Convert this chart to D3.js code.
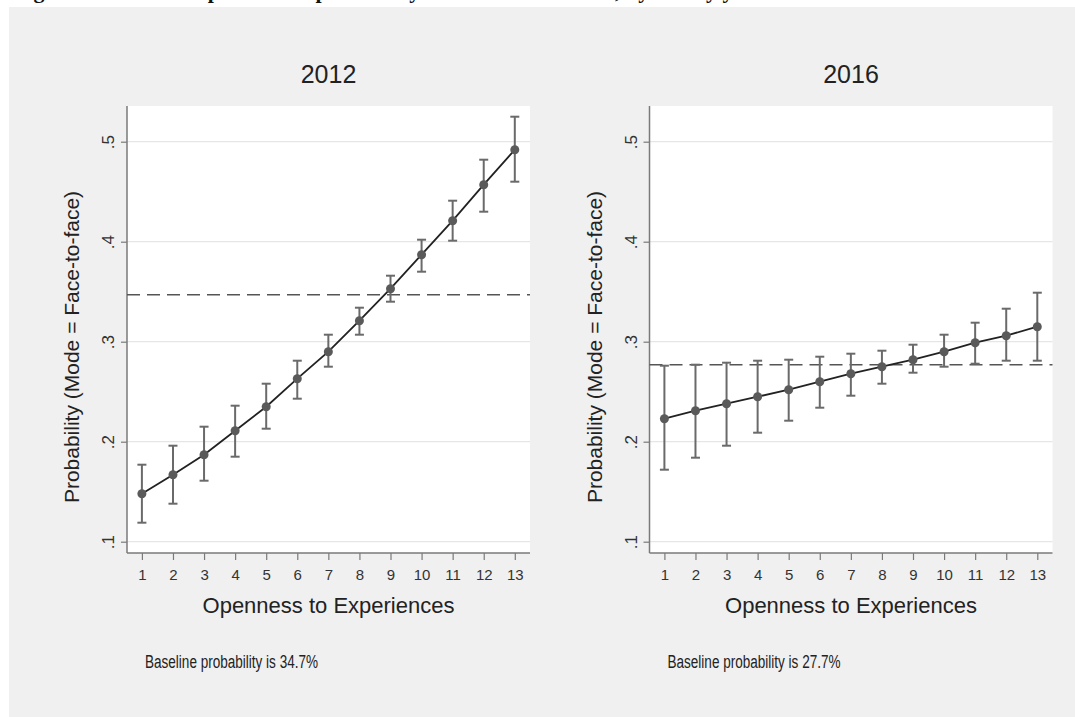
<!DOCTYPE html>
<html>
<head>
<meta charset="utf-8">
<script src="https://cdn.jsdelivr.net/npm/d3@7"></script>
<style>
  html, body { margin: 0; padding: 0; background: #ffffff; }
  svg { display: block; }
</style>
</head>
<body>
<script>
// Openness to Experiences scale points
const openness = [1, 2, 3, 4, 5, 6, 7, 8, 9, 10, 11, 12, 13];

// 2012: predicted probability of face-to-face mode with 95% CI
const prob2012 = [0.148, 0.167, 0.187, 0.211, 0.235, 0.263, 0.290, 0.321, 0.353, 0.387, 0.421, 0.457, 0.492];
const lo2012   = [0.119, 0.138, 0.161, 0.185, 0.213, 0.243, 0.275, 0.307, 0.340, 0.370, 0.401, 0.430, 0.460];
const hi2012   = [0.177, 0.196, 0.215, 0.236, 0.258, 0.281, 0.307, 0.334, 0.366, 0.402, 0.441, 0.482, 0.525];
const base2012 = 0.347;

// 2016
const prob2016 = [0.223, 0.231, 0.238, 0.245, 0.252, 0.260, 0.268, 0.275, 0.282, 0.290, 0.299, 0.306, 0.315];
const lo2016   = [0.172, 0.184, 0.196, 0.209, 0.221, 0.234, 0.246, 0.258, 0.269, 0.275, 0.278, 0.281, 0.281];
const hi2016   = [0.276, 0.277, 0.279, 0.281, 0.282, 0.285, 0.288, 0.291, 0.297, 0.307, 0.319, 0.333, 0.349];
const base2016 = 0.277;

const yTicks = [0.1, 0.2, 0.3, 0.4, 0.5];
const yTickLabels = [".1", ".2", ".3", ".4", ".5"];

const panels = [
  { title: "2012", prob: prob2012, lo: lo2012, hi: hi2012, base: base2012, note: "Baseline probability is 34.7%" },
  { title: "2016", prob: prob2016, lo: lo2016, hi: hi2016, base: base2016, note: "Baseline probability is 27.7%" }
];

const W = 1075, H = 717;
const svg = d3.select("body").append("svg").attr("width", W).attr("height", H);

// page strip with the figure caption running off the top edge
svg.append("rect").attr("x", 0).attr("y", 0).attr("width", W).attr("height", H).attr("fill", "#ffffff");
svg.append("text")
  .attr("x", 14).attr("y", -2)
  .attr("font-family", "Liberation Serif, Times New Roman, serif")
  .attr("font-weight", "bold").attr("font-size", 22).attr("fill", "#111")
  .text("Figure 4: Effect of Openness on probability of face-to-face mode, by survey year");

// graph background
svg.append("rect").attr("x", 9).attr("y", 7).attr("width", W - 9).attr("height", H - 7).attr("fill", "#f0f0f0");

const font = "Liberation Sans, Arial, Helvetica, sans-serif";
const plotTop = 106, plotBottom = 553, plotW = 403;
const panelX = [127, 649.5];

const y = d3.scaleLinear().domain([0.1, 0.5]).range([541.7, 141.7]);

panels.forEach((p, i) => {
  const ax = panelX[i];
  const x = d3.scaleLinear().domain([1, 13]).range([ax + 14.9, ax + 387.8]);
  const g = svg.append("g");

  // plot region
  g.append("rect").attr("x", ax).attr("y", plotTop).attr("width", plotW).attr("height", plotBottom - plotTop).attr("fill", "#ffffff");

  // horizontal gridlines
  g.selectAll("line.grid").data(yTicks).enter().append("line")
    .attr("x1", ax).attr("x2", ax + plotW)
    .attr("y1", d => y(d)).attr("y2", d => y(d))
    .attr("stroke", "#e6e6e6").attr("stroke-width", 1.2);

  // y axis
  const yAxis = d3.axisLeft(y).tickValues(yTicks).tickSize(6).tickFormat((d, k) => yTickLabels[k]);
  const ya = g.append("g").attr("transform", `translate(${ax},0)`).call(yAxis);
  ya.select(".domain").attr("d", `M0,${plotTop}V${plotBottom}`).attr("stroke", "#7a7a7a").attr("stroke-width", 1.5);
  ya.selectAll(".tick line").attr("stroke", "#7a7a7a").attr("stroke-width", 1.2);
  ya.selectAll(".tick text")
    .attr("x", null).attr("dy", null)
    .attr("transform", "translate(-13,0) rotate(-90)")
    .attr("text-anchor", "middle")
    .attr("font-family", font).attr("font-size", 17).attr("fill", "#333");

  // x axis
  const xAxis = d3.axisBottom(x).tickValues(openness).tickSize(7).tickFormat(d3.format("d"));
  const xa = g.append("g").attr("transform", `translate(0,${plotBottom})`).call(xAxis);
  xa.select(".domain").attr("d", `M${ax},0H${ax + plotW}`).attr("stroke", "#7a7a7a").attr("stroke-width", 1.5);
  xa.selectAll(".tick line").attr("stroke", "#7a7a7a").attr("stroke-width", 1.2);
  xa.selectAll(".tick text").attr("y", 16).attr("dy", "0.71em")
    .attr("font-family", font).attr("font-size", 15).attr("fill", "#333");

  // baseline probability (dashed)
  g.append("line")
    .attr("x1", ax).attr("x2", ax + plotW)
    .attr("y1", y(p.base)).attr("y2", y(p.base))
    .attr("stroke", "#555").attr("stroke-width", 1.6).attr("stroke-dasharray", "13,7");

  // confidence intervals
  const ci = g.selectAll("g.ci").data(openness).enter().append("g");
  ci.append("line")
    .attr("x1", d => x(d)).attr("x2", d => x(d))
    .attr("y1", (d, k) => y(p.lo[k])).attr("y2", (d, k) => y(p.hi[k]))
    .attr("stroke", "#6a6a6a").attr("stroke-width", 2);
  ci.append("line")
    .attr("x1", d => x(d) - 4.5).attr("x2", d => x(d) + 4.5)
    .attr("y1", (d, k) => y(p.lo[k])).attr("y2", (d, k) => y(p.lo[k]))
    .attr("stroke", "#6a6a6a").attr("stroke-width", 2);
  ci.append("line")
    .attr("x1", d => x(d) - 4.5).attr("x2", d => x(d) + 4.5)
    .attr("y1", (d, k) => y(p.hi[k])).attr("y2", (d, k) => y(p.hi[k]))
    .attr("stroke", "#6a6a6a").attr("stroke-width", 2);

  // predicted probability line and markers
  const line = d3.line().x((d, k) => x(openness[k])).y(d => y(d));
  g.append("path").datum(p.prob).attr("d", line)
    .attr("fill", "none").attr("stroke", "#222").attr("stroke-width", 1.8);
  g.selectAll("circle.pt").data(p.prob).enter().append("circle")
    .attr("cx", (d, k) => x(openness[k])).attr("cy", d => y(d)).attr("r", 4.5)
    .attr("fill", "#5a5a5a");

  // panel title
  g.append("text").attr("x", ax + plotW / 2).attr("y", 83)
    .attr("text-anchor", "middle").attr("font-family", font).attr("font-size", 25).attr("fill", "#222")
    .text(p.title);

  // axis titles
  g.append("text").attr("x", ax + plotW / 2).attr("y", 613)
    .attr("text-anchor", "middle").attr("font-family", font).attr("font-size", 22).attr("fill", "#222")
    .text("Openness to Experiences");
  g.append("text")
    .attr("transform", `translate(${ax - 48},347) rotate(-90)`)
    .attr("text-anchor", "middle").attr("font-family", font).attr("font-size", 21).attr("fill", "#222")
    .text("Probability (Mode = Face-to-face)");

  // note
  g.append("text").attr("x", ax + 18).attr("y", 668)
    .attr("font-family", font).attr("font-size", 18).attr("fill", "#222")
    .attr("textLength", 173).attr("lengthAdjust", "spacingAndGlyphs")
    .text(p.note);
});
</script>
</body>
</html>
